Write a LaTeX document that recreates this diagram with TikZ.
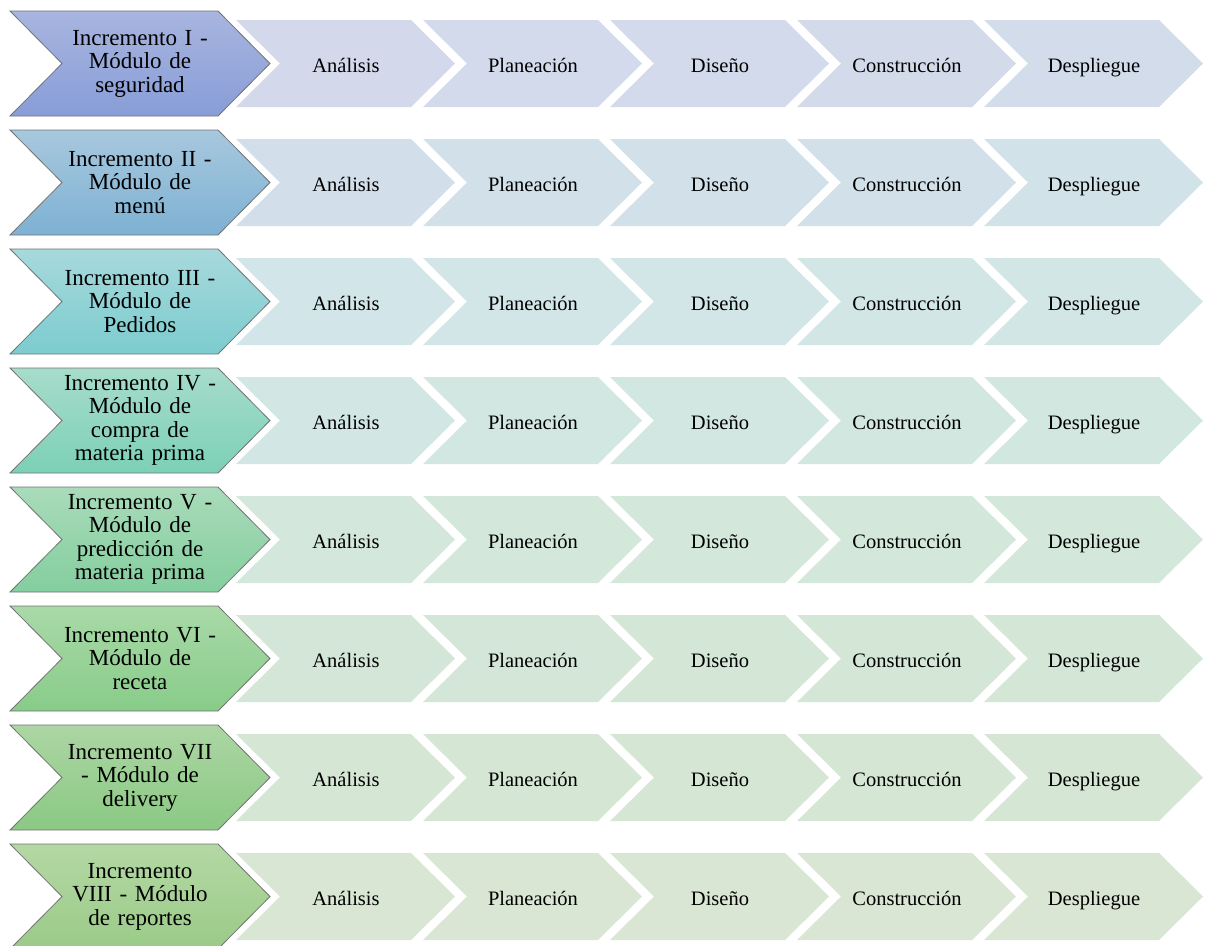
\documentclass[tikz,border=0pt]{standalone}
\usepackage{fontspec}
\setmainfont{Liberation Serif}
\definecolor{ht1}{HTML}{A8B5DF}\definecolor{hb1}{HTML}{889DD7}
\definecolor{ht2}{HTML}{A7C8DE}\definecolor{hb2}{HTML}{7EB1D3}
\definecolor{ht3}{HTML}{A7D9DC}\definecolor{hb3}{HTML}{7CCCCF}
\definecolor{ht4}{HTML}{A7DCCB}\definecolor{hb4}{HTML}{7CD0B6}
\definecolor{ht5}{HTML}{A9DBBA}\definecolor{hb5}{HTML}{84CE9E}
\definecolor{ht6}{HTML}{A9D9A8}\definecolor{hb6}{HTML}{88CC89}
\definecolor{ht7}{HTML}{ACD6A3}\definecolor{hb7}{HTML}{8BC984}
\definecolor{ht8}{HTML}{B4D8A4}\definecolor{hb8}{HTML}{9ACB88}
\definecolor{lc1}{HTML}{D3D9EB}
\definecolor{lc2}{HTML}{D2DFEA}
\definecolor{lc3}{HTML}{D2E5E8}
\definecolor{lc4}{HTML}{D2E7E3}
\definecolor{lc5}{HTML}{D3E7DC}
\definecolor{lc6}{HTML}{D4E6D7}
\definecolor{lc7}{HTML}{D5E6D4}
\definecolor{lc8}{HTML}{D8E6D3}
\definecolor{lc9}{HTML}{DAE5D2}
\begin{document}
\begin{tikzpicture}[x=1pt,y=-1pt,
  headtext/.style={font=\fontsize{23}{23.5}\selectfont, align=center, text width=160pt, inner sep=0pt},
  steptext/.style={font=\fontsize{20.5}{24}\selectfont, inner sep=0pt, text height=17pt, text depth=0pt},
  headline/.style={draw=black!55, line width=0.8pt}]
\useasboundingbox (0,0) rectangle (1206,945);
\foreach \i/\lab in {
  1/{Incremento I -\\Módulo de\\seguridad},
  2/{Incremento II -\\Módulo de\\menú},
  3/{Incremento III -\\Módulo de\\Pedidos},
  4/{Incremento IV -\\Módulo de\\compra de\\materia prima},
  5/{Incremento V -\\Módulo de\\predicción de\\materia prima},
  6/{Incremento VI -\\Módulo de\\receta},
  7/{Incremento VII\\- Módulo de\\delivery},
  8/{Incremento\\VIII - Módulo\\de reportes}}{
  \pgfmathsetmacro\cy{63.5+119*(\i-1)}
  \pgfmathtruncatemacro\nx{\i+1}
  % head chevron
  \shade[top color=ht\i, bottom color=hb\i, headline]
    (10,\cy-52.5) -- (218,\cy-52.5) -- (270,\cy) -- (218,\cy+52.5)
    -- (10,\cy+52.5) -- (62,\cy) -- cycle;
  \node[headtext] (head\i) at (140,\cy) {\lab};
  % step chevrons
  \foreach \j/\st in {0/Análisis,1/Planeación,2/Diseño,3/Construcción,4/Despliegue}{
    \pgfmathsetmacro\L{236+187*\j}
    \pgfmathtruncatemacro\p{100-12*\j}
    \fill[fill=lc\i!\p!lc\nx]
      (\L,\cy-43.5) -- (\L+175,\cy-43.5) -- (\L+219,\cy) -- (\L+175,\cy+43.5)
      -- (\L,\cy+43.5) -- (\L+44,\cy) -- cycle;
    \node[steptext] (s\i-\j) at (\L+110,\cy) {\st};
  }
}
\end{tikzpicture}
\end{document}
